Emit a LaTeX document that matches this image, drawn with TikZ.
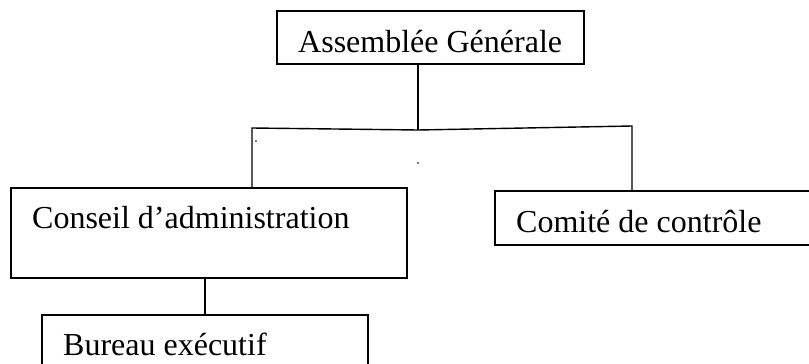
\documentclass[tikz,border=0pt]{standalone}
\usepackage{fontspec}
\setmainfont{Liberation Serif}
\begin{document}
\begin{tikzpicture}[x=1pt,y=-1pt,
  boxshape/.style={draw, line width=1.4pt, inner sep=0pt, rectangle},
  label/.style={inner sep=0pt, anchor=base west, font=\fontsize{32pt}{36pt}\selectfont},
  link/.style={line width=1.4pt},
  speck/.style={fill=black}]
\useasboundingbox (0,0) rectangle (809,364);
\clip (0,0) rectangle (809,364);
% boxes
\node[boxshape, minimum width=307pt, minimum height=53pt] (ag) at (430.5,37.5) {};
\node[boxshape, minimum width=396pt, minimum height=90pt] (ca) at (209,233) {};
\node[boxshape, minimum width=335pt, minimum height=54pt] (cc) at (662.5,218) {};
\node[boxshape, minimum width=326pt, minimum height=80pt] (be) at (205,355) {};
% texts
\node[label] (tag) at (298,52) {Assemblée Générale};
\node[label] (tca) at (32,228) {Conseil d’administration};
\node[label] (tcc) at (516,232) {Comité de contrôle};
\node[label] (tbe) at (63,355) {Bureau exécutif};
% connectors
\coordinate (j) at (418,130);
\coordinate (jl) at (252,128);
\coordinate (jr) at (632,126);
\draw[link] (ag.south -| j) -- (j);
\draw[link] (jl |- ca.north) -- (jl) -- (j) -- (jr) -- (jr |- cc.north);
\draw[link] (be.north) -- (be.north |- ca.south);
% small specks
\fill[speck] (256,141) circle (0.8pt);
\fill[speck] (418,163) circle (0.8pt);
\end{tikzpicture}
\end{document}
